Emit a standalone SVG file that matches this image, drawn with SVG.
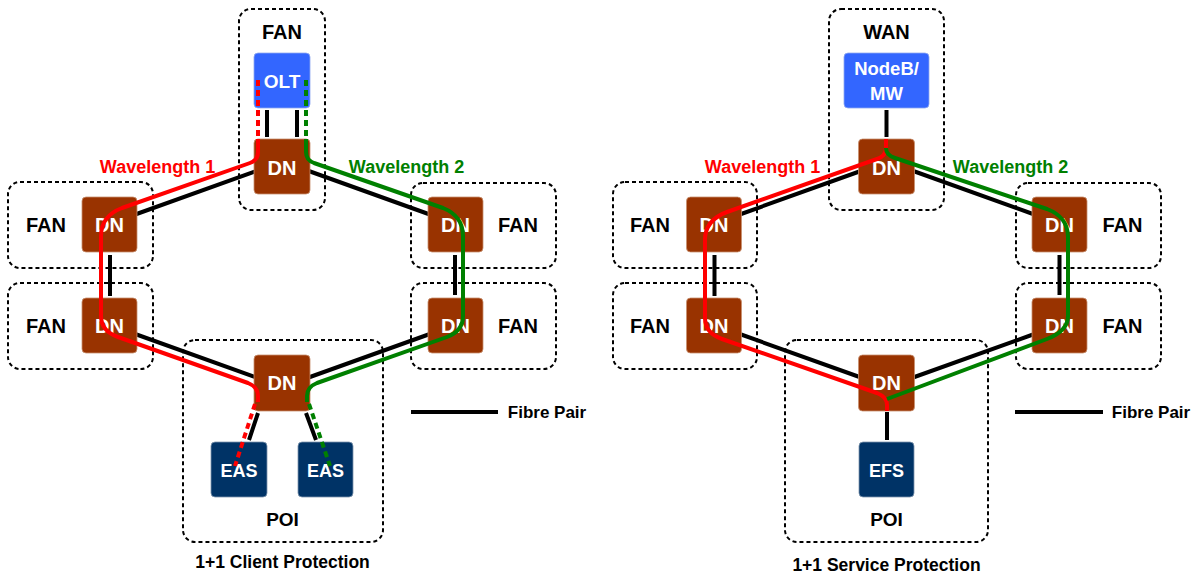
<svg xmlns="http://www.w3.org/2000/svg" width="1200" height="573" viewBox="0 0 1200 573">
<style>
  .zone{fill:none;stroke:#000;stroke-width:2;stroke-dasharray:4 3}
  .dn{fill:#993300;stroke:#c89070;stroke-width:0.8}
  .olt{fill:#3366FF;stroke:#8fa8f0;stroke-width:0.8}
  .eas{fill:#003366;stroke:#7f95ad;stroke-width:0.8}
  .fib{stroke:#000;stroke-width:4;fill:none}
  .w1{stroke:#FF0000;stroke-width:4;fill:none;stroke-linejoin:round}
  .w2{stroke:#008000;stroke-width:4;fill:none;stroke-linejoin:round}
  .dash{stroke-dasharray:6 4}
  text{font-family:"Liberation Sans",Arial,sans-serif;font-weight:bold;text-anchor:middle}
  .wt{fill:#fff;font-size:20px}
  .lbl{fill:#000;font-size:20px}
  .cap{fill:#000;font-size:17.5px}
  .r{fill:#FF0000;font-size:18px}
  .g{fill:#008000;font-size:18px}
</style>

<!-- zones -->
<g id="zones">
  <rect class="zone" x="239" y="9" width="86" height="201" rx="12"/>
  <rect class="zone" x="8" y="182" width="145" height="86" rx="12"/>
  <rect class="zone" x="8" y="283" width="145" height="86" rx="12"/>
  <rect class="zone" x="411" y="183" width="145" height="85" rx="12"/>
  <rect class="zone" x="411" y="283" width="145" height="86" rx="12"/>
  <rect class="zone" x="183" y="340" width="200" height="202" rx="12"/>

  <rect class="zone" x="829" y="9" width="115" height="201" rx="12"/>
  <rect class="zone" x="613" y="182" width="144" height="86" rx="12"/>
  <rect class="zone" x="613" y="283" width="144" height="86" rx="12"/>
  <rect class="zone" x="1016" y="183" width="145" height="85" rx="12"/>
  <rect class="zone" x="1016" y="283" width="145" height="86" rx="12"/>
  <rect class="zone" x="785" y="340" width="203" height="202" rx="12"/>
</g>

<!-- fibre pair connectors -->
<g id="connectors">
  <path class="fib" d="M267,110 V137 M297,110 V137"/>
  <path class="fib" d="M259,170 L131,216 M306,170 L434,216"/>
  <path class="fib" d="M110,255 V296 M455,255 V295"/>
  <path class="fib" d="M131,332.5 L262,379.5 M434,332.5 L303,379.5"/>
  <path class="fib" d="M258,413 L249,440 M306,413 L316,440"/>
  <path class="fib" d="M411,412 H498"/>

  <path class="fib" d="M886.5,110 V137"/>
  <path class="fib" d="M863.5,170 L735.5,216 M910.5,170 L1038.5,216"/>
  <path class="fib" d="M714.5,255 V296 M1059.5,255 V295"/>
  <path class="fib" d="M735.5,332.5 L866.5,379.5 M1038.5,332.5 L907.5,379.5"/>
  <path class="fib" d="M887,412 V440"/>
  <path class="fib" d="M1015,412 H1103"/>
</g>

<!-- left diagram nodes -->
<g id="fan-top-l"><text class="lbl" x="282" y="39">FAN</text></g>
<g id="olt"><rect class="olt" x="254" y="53" width="56" height="55" rx="4"/><text class="wt" x="282" y="88" style="font-size:19px">OLT</text></g>
<g id="dn-top-l"><rect class="dn" x="254" y="139" width="56" height="55" rx="4"/><text class="wt" x="282" y="175">DN</text></g>
<g id="dn-ul-l"><rect class="dn" x="82" y="197" width="55" height="55" rx="4"/><text class="wt" x="109.5" y="232">DN</text><text class="lbl" x="46" y="232">FAN</text></g>
<g id="dn-ll-l"><rect class="dn" x="82" y="298" width="55" height="55" rx="4"/><text class="wt" x="109.5" y="333">DN</text><text class="lbl" x="46" y="333">FAN</text></g>
<g id="dn-ur-l"><rect class="dn" x="428" y="197" width="55" height="55" rx="4"/><text class="wt" x="455.5" y="232">DN</text><text class="lbl" x="518" y="232">FAN</text></g>
<g id="dn-lr-l"><rect class="dn" x="428" y="298" width="55" height="55" rx="4"/><text class="wt" x="455.5" y="333">DN</text><text class="lbl" x="518" y="333">FAN</text></g>
<g id="dn-bot-l"><rect class="dn" x="254" y="355" width="56" height="56" rx="4"/><text class="wt" x="282" y="390">DN</text></g>
<g id="eas-1"><rect class="eas" x="211" y="442" width="56" height="55" rx="4"/><text class="wt" x="239" y="477" style="font-size:18px">EAS</text></g>
<g id="eas-2"><rect class="eas" x="298" y="442" width="55" height="55" rx="4"/><text class="wt" x="325.5" y="477" style="font-size:18px">EAS</text></g>
<g id="poi-l"><text class="lbl" x="282.5" y="526" style="font-size:19px">POI</text></g>

<!-- right diagram nodes -->
<g id="wan"><text class="lbl" x="886.5" y="39">WAN</text></g>
<g id="nodeb"><rect class="olt" x="844" y="53" width="85" height="55" rx="4"/><text class="wt" x="886.5" y="75" style="font-size:18.5px">NodeB/</text><text class="wt" x="886.5" y="100" style="font-size:18.5px">MW</text></g>
<g id="dn-top-r"><rect class="dn" x="858.5" y="139" width="56" height="55" rx="4"/><text class="wt" x="886.5" y="175">DN</text></g>
<g id="dn-ul-r"><rect class="dn" x="686.5" y="197" width="55" height="55" rx="4"/><text class="wt" x="714" y="232">DN</text><text class="lbl" x="650" y="232">FAN</text></g>
<g id="dn-ll-r"><rect class="dn" x="686.5" y="298" width="55" height="55" rx="4"/><text class="wt" x="714" y="333">DN</text><text class="lbl" x="650" y="333">FAN</text></g>
<g id="dn-ur-r"><rect class="dn" x="1032" y="197" width="55" height="55" rx="4"/><text class="wt" x="1059.5" y="232">DN</text><text class="lbl" x="1122.5" y="232">FAN</text></g>
<g id="dn-lr-r"><rect class="dn" x="1032" y="298" width="55" height="55" rx="4"/><text class="wt" x="1059.5" y="333">DN</text><text class="lbl" x="1122.5" y="333">FAN</text></g>
<g id="dn-bot-r"><rect class="dn" x="858.5" y="355" width="56" height="56" rx="4"/><text class="wt" x="886.5" y="390">DN</text></g>
<g id="efs"><rect class="eas" x="859" y="442" width="55" height="55" rx="4"/><text class="wt" x="886.5" y="477" style="font-size:18px">EFS</text></g>
<g id="poi-r"><text class="lbl" x="886.5" y="526" style="font-size:19px">POI</text></g>

<!-- wavelength paths -->
<g id="wavelengths">
  <path class="w1 dash" d="M258,80 V139"/>
  <path class="w1" d="M258,139 V152 Q258,160 250,163 L122,208 Q101,216 101,236 V316 Q101,331 118,337 L248,383 Q258,387 258,396 V402"/>
  <path class="w1 dash" d="M255,404 L235,466"/>
  <path class="w2 dash" d="M306,80 V139"/>
  <path class="w2" d="M306,139 V152 Q306,160 314,163 L443,208 Q463,216 463,236 V316 Q463,331 447,337 L317,383 Q307,387 307,396 V402"/>
  <path class="w2 dash" d="M309,404 L330,466"/>

  <path class="w1" d="M886,139 V148 Q886,156 877,159 L727,212 Q705,220 705,240 V318 Q705,333 722,339 L877,393 Q887,397 887,405 V411"/>
  <path class="w2" d="M886,148 Q886,155 895,158 L1047,209 Q1068,217 1068,237 V316 Q1068,331 1047,339 L887,399"/>
</g>

<!-- labels -->
<g id="labels">
  <text class="r" x="157.5" y="173">Wavelength 1</text>
  <text class="g" x="406.5" y="173">Wavelength 2</text>
  <text class="r" x="762.5" y="173">Wavelength 1</text>
  <text class="g" x="1010.5" y="173">Wavelength 2</text>
  <text class="cap" x="547" y="418" style="font-size:17px">Fibre Pair</text>
  <text class="cap" x="1151" y="418" style="font-size:17px">Fibre Pair</text>
  <text class="cap" x="282.5" y="568">1+1 Client Protection</text>
  <text class="cap" x="886.5" y="571">1+1 Service Protection</text>
</g>
</svg>
